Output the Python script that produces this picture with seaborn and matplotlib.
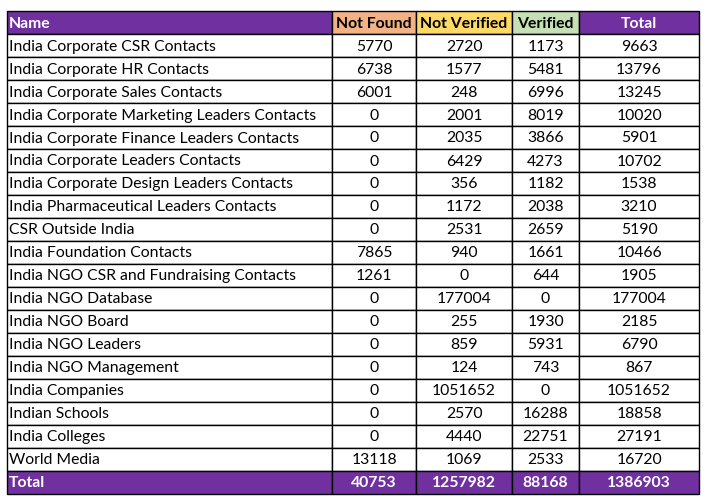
import matplotlib
matplotlib.use("Agg")
import matplotlib.pyplot as plt
import seaborn as sns

sns.set_theme(style="white")
plt.rcParams['font.family'] = ['Lato', 'DejaVu Sans']

# data
names = [
    "India Corporate CSR Contacts",
    "India Corporate HR Contacts",
    "India Corporate Sales Contacts",
    "India Corporate Marketing Leaders Contacts",
    "India Corporate Finance Leaders Contacts",
    "India Corporate Leaders Contacts",
    "India Corporate Design Leaders Contacts",
    "India Pharmaceutical Leaders Contacts",
    "CSR Outside India",
    "India Foundation Contacts",
    "India NGO CSR and Fundraising Contacts",
    "India NGO Database",
    "India NGO Board",
    "India NGO Leaders",
    "India NGO Management",
    "India Companies",
    "Indian Schools",
    "India Colleges",
    "World Media",
]
not_found = [5770, 6738, 6001, 0, 0, 0, 0, 0, 0, 7865, 1261, 0, 0, 0, 0, 0, 0, 0, 13118]
not_verified = [2720, 1577, 248, 2001, 2035, 6429, 356, 1172, 2531, 940, 0, 177004,
                255, 859, 124, 1051652, 2570, 4440, 1069]
verified = [1173, 5481, 6996, 8019, 3866, 4273, 1182, 2038, 2659, 1661, 644, 0,
            1930, 5931, 743, 0, 16288, 22751, 2533]
total = [9663, 13796, 13245, 10020, 5901, 10702, 1538, 3210, 5190, 10466, 1905,
         177004, 2185, 6790, 867, 1051652, 18858, 27191, 16720]
totals_row = [40753, 1257982, 88168, 1386903]
headers = ["Name", "Not Found", "Not Verified", "Verified", "Total"]

purple = "#7030A0"
header_colors = [purple, "#F4B183", "#FFD966", "#C5E0B4", purple]
header_text = ["white", "black", "black", "black", "white"]

rows = [[n, str(a), str(b), str(c), str(d)]
        for n, a, b, c, d in zip(names, not_found, not_verified, verified, total)]
rows.append(["Total"] + [str(v) for v in totals_row])

fig = plt.figure(figsize=(7.11, 5.02), dpi=100)
ax = fig.add_axes([0, 0, 1, 1])
ax.axis("off")

col_w = [325, 84, 96, 67, 120]
tw = sum(col_w)
tbl = ax.table(cellText=rows, colLabels=headers,
               colWidths=[w / tw for w in col_w],
               bbox=[7 / 711, 7 / 502, 692 / 711, 483 / 502])
tbl.auto_set_font_size(False)

nrows = len(rows) + 1
for (r, c), cell in tbl.get_celld().items():
    cell.set_edgecolor("black")
    cell.set_linewidth(1.0)
    txt = cell.get_text()
    txt.set_fontsize(11.3)
    if c == 0:
        cell.PAD = 0.006
        cell._loc = "left"
        cell.set_text_props(ha="left")
    else:
        cell._loc = "center"
        cell.set_text_props(ha="center")
    if r == 0:
        cell.set_facecolor(header_colors[c])
        txt.set_color(header_text[c])
        txt.set_fontweight("bold")
    elif r == nrows - 1:
        cell.set_facecolor(purple)
        txt.set_color("white")
        txt.set_fontweight("bold")
    else:
        cell.set_facecolor("white")
        txt.set_color("black")

fig.savefig("out.png", dpi=100)
